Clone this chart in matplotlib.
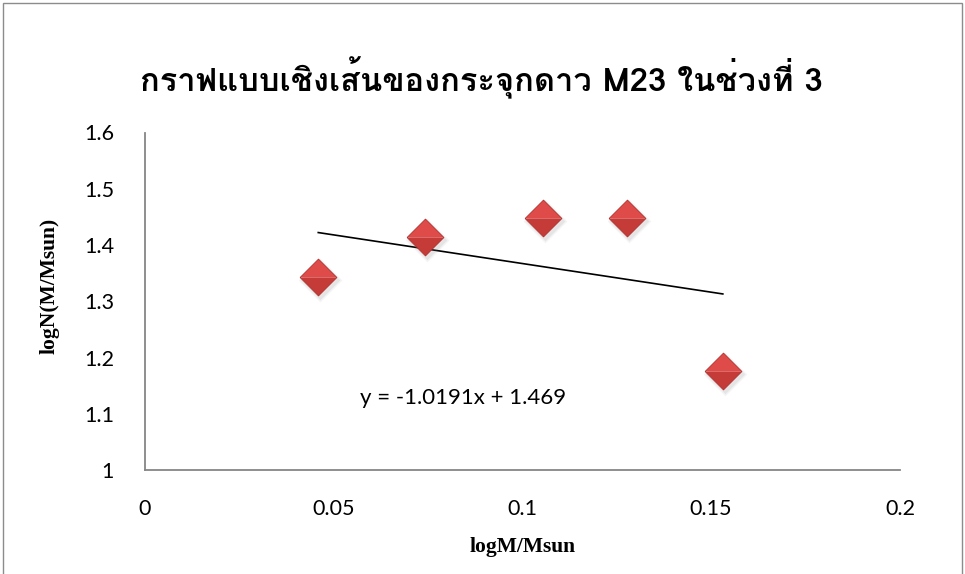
import matplotlib
matplotlib.use("Agg")
import matplotlib.pyplot as plt
from matplotlib import font_manager, transforms
from matplotlib.ft2font import FT2Font
from matplotlib.patches import Rectangle

# Data: log mass vs log number for cluster M23, range 3
log_mass = [0.0460, 0.0743, 0.1056, 0.1278, 0.1531]
log_n = [1.3426, 1.4148, 1.4475, 1.4475, 1.1765]
slope = -1.0191
intercept = 1.469

title = "กราฟแบบเชิงเส้นของกระจุกดาว M23 ในช่วงที่ 3"
xlabel = "logM/Msun"
ylabel = "logN(M/Msun)"
equation = "y = -1.0191x + 1.469"
x_ticks = [0, 0.05, 0.1, 0.15, 0.2]
x_tick_labels = ["0", "0.05", "0.1", "0.15", "0.2"]
y_ticks = [1, 1.1, 1.2, 1.3, 1.4, 1.5, 1.6]
y_tick_labels = ["1", "1.1", "1.2", "1.3", "1.4", "1.5", "1.6"]


def thai_font():
    """Pick an installed font that can draw Thai, bold if possible."""
    best = None
    for entry in font_manager.fontManager.ttflist:
        try:
            cmap = FT2Font(entry.fname).get_charmap()
        except Exception:
            continue
        if 0x0E01 in cmap and 0x0E2A in cmap:
            w = entry.weight if isinstance(entry.weight, int) else 400
            if best is None or abs(w - 700) < abs(best[1] - 700):
                best = (entry.name, w)
    return best[0] if best else "DejaVu Sans"


thai = thai_font()

fig = plt.figure(figsize=(9.65, 5.74), dpi=100)
fig.patch.set_facecolor("white")

# chart-area border
fig.patches.append(Rectangle((3 / 965, -0.05), 959 / 965, 1.05 - 3 / 574,
                             transform=fig.transFigure, fill=False,
                             edgecolor="#8c8c8c", linewidth=1.0))

ax = fig.add_axes([144.5 / 965, (574 - 470) / 574, (900 - 144.5) / 965, (470 - 132.5) / 574])
ax.set_xlim(0, 0.2)
ax.set_ylim(1, 1.6)
for s in ("top", "right"):
    ax.spines[s].set_visible(False)
for s in ("left", "bottom"):
    ax.spines[s].set_color("#868686")
    ax.spines[s].set_linewidth(1.3)

tick_font = {"family": ["Lato", "DejaVu Sans"], "size": 15.5}
ax.set_xticks(x_ticks)
ax.set_xticklabels(x_tick_labels, fontdict=tick_font)
ax.set_yticks(y_ticks)
ax.set_yticklabels(y_tick_labels, fontdict=tick_font)
ax.tick_params(axis="both", length=0, colors="black")
ax.tick_params(axis="x", pad=21)
ax.tick_params(axis="y", pad=22)

ax.set_xlabel(xlabel, fontfamily="Liberation Serif", fontweight="bold", fontsize=15.5, labelpad=13)
ax.set_ylabel(ylabel, fontfamily="Liberation Serif", fontweight="bold", fontsize=15.5)
ax.yaxis.set_label_coords(-0.113, 0.545)

# linear trendline across the data range
x0, x1 = min(log_mass), max(log_mass)
ax.plot([x0, x1], [slope * x0 + intercept, slope * x1 + intercept],
        color="black", linewidth=1.2, zorder=2)

# diamond markers with a bevelled look
ms = 26.5
top_half = [(-1, 0), (0, 1), (1, 0), (-1, 0)]
bottom_half = [(-1, 0), (0, -1), (1, 0), (-1, 0)]
full = [(-1, 0), (0, 1), (1, 0), (0, -1), (-1, 0)]
shadow_tr = transforms.offset_copy(ax.transData, fig=fig, x=2, y=-3, units="dots")
for extra, a in ((5, 0.08), (2, 0.12)):
    ax.plot(log_mass, log_n, linestyle="none", marker=full, markersize=ms + extra,
            color="#7a7a7a", alpha=a, markeredgewidth=0, transform=shadow_tr, zorder=3)
ax.plot(log_mass, log_n, linestyle="none", marker=bottom_half, markersize=ms,
        color="#c43b38", markeredgewidth=0, zorder=4)
ax.plot(log_mass, log_n, linestyle="none", marker=top_half, markersize=ms,
        color="#de4b48", markeredgewidth=0, zorder=5)
ax.plot(log_mass, log_n, linestyle="none", marker=full, markersize=ms,
        markerfacecolor="none", markeredgecolor="#b0302d", markeredgewidth=0.6, zorder=6)

ax.text(0.0843, 1.128, equation, fontfamily=["Lato", "DejaVu Sans"], fontsize=16,
        ha="center", va="center", zorder=7)

fig.text(481 / 965, 1 - 78 / 574, title, fontfamily=[thai, "DejaVu Sans"],
         fontweight="bold", fontsize=23.5, ha="center", va="center")

fig.savefig("out.png", dpi=100, facecolor="white")
